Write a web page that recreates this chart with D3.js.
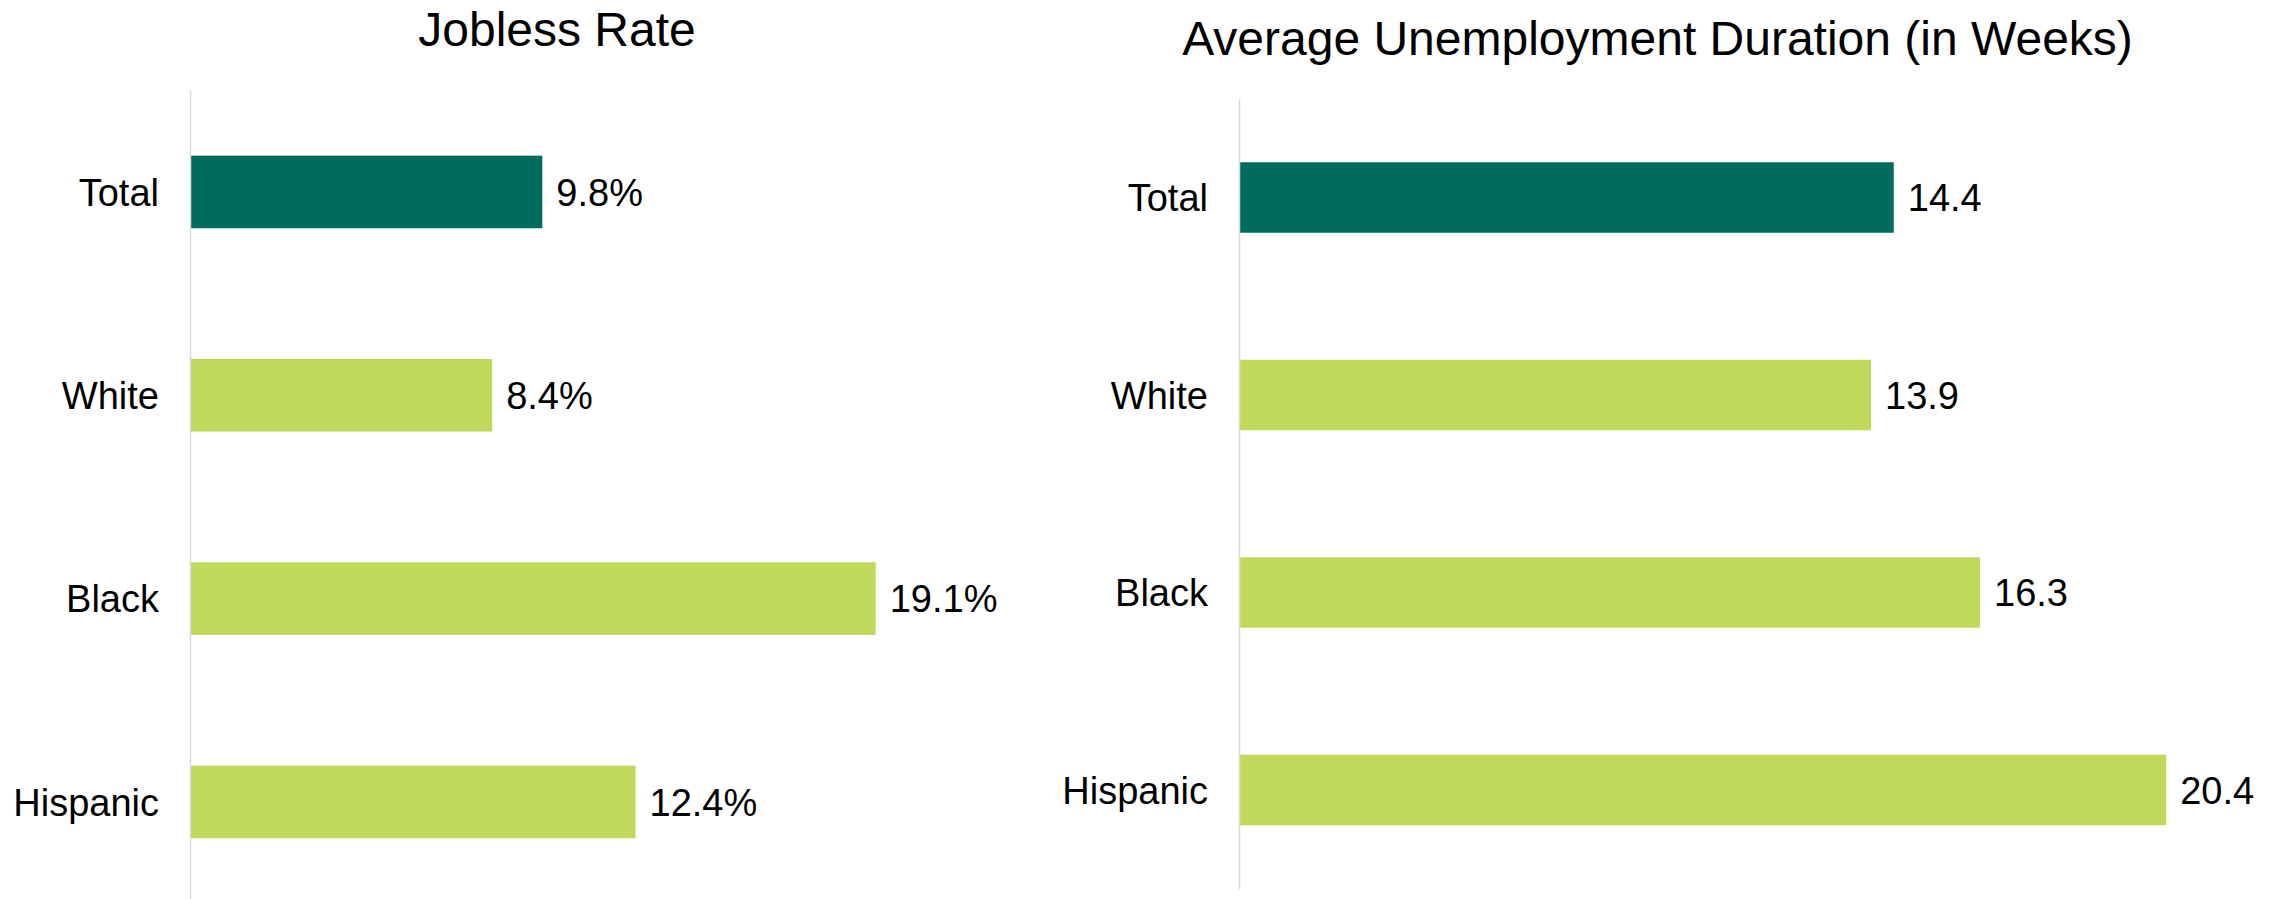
<!DOCTYPE html>
<html>
<head>
<meta charset="utf-8">
<script src="https://cdn.jsdelivr.net/npm/d3@7"></script>
<style>
  html, body { margin: 0; padding: 0; background: #ffffff; }
  svg { display: block; }
  text { font-family: "Liberation Sans", Arial, sans-serif; fill: #000000; }
</style>
</head>
<body>
<svg id="chart" width="2279" height="899"></svg>
<script>
// ---- Data ----
const categories = ["Total", "White", "Black", "Hispanic"];
const joblessRate = [9.8, 8.4, 19.1, 12.4];
const durationWeeks = [14.4, 13.9, 16.3, 20.4];
const titles = ["Jobless Rate", "Average Unemployment Duration (in Weeks)"];

// ---- Styles ----
const darkColor = "#006C5E";
const lightColor = "#C1D95B";
const axisColor = "#D9D9D9";

const svg = d3.select("#chart");

function drawPanel(cfg) {
  const g = svg.append("g");
  const x = d3.scaleLinear().domain(cfg.xDomain).range(cfg.xRange);
  const y = d3.scaleBand().domain(categories).range(cfg.yRange)
    .paddingInner(0.643).paddingOuter(0.3215);

  const rows = categories.map((c, i) => ({ cat: c, val: cfg.values[i], i }));

  g.selectAll("rect.bar").data(rows).enter().append("rect")
    .attr("class", "bar")
    .attr("x", x(0))
    .attr("y", d => y(d.cat))
    .attr("width", d => x(d.val) - x(0))
    .attr("height", y.bandwidth())
    .attr("fill", d => d.i === 0 ? darkColor : lightColor);

  g.selectAll("text.val").data(rows).enter().append("text")
    .attr("class", "val")
    .attr("x", d => x(d.val) + 14)
    .attr("y", d => y(d.cat) + y.bandwidth() / 2)
    .attr("dy", "0.36em")
    .style("font-size", "38px")
    .text(d => cfg.fmt(d.val));

  const axis = d3.axisLeft(y).tickSize(0).tickSizeOuter(0).tickPadding(31);
  const ag = g.append("g")
    .attr("transform", `translate(${cfg.axisX},0)`)
    .call(axis);
  ag.select(".domain").attr("stroke", axisColor).attr("stroke-width", 1.5);
  ag.selectAll(".tick text")
    .attr("dy", "0.36em")
    .style("font-size", "38px")
    .style("font-family", "'Liberation Sans', Arial, sans-serif")
    .attr("fill", "#000");

  g.append("text")
    .attr("x", cfg.titleX)
    .attr("y", cfg.titleY)
    .attr("text-anchor", "middle")
    .style("font-size", "48px")
    .text(cfg.title);
}

drawPanel({
  values: joblessRate,
  xDomain: [0, 20],
  xRange: [191, 908],
  yRange: [90.3, 903.6],
  axisX: 190,
  titleX: 557,
  titleY: 46,
  title: titles[0],
  fmt: v => v.toFixed(1) + "%"
});

drawPanel({
  values: durationWeeks,
  xDomain: [0, 22],
  xRange: [1240, 2238.8],
  yRange: [98.75, 888.75],
  axisX: 1239,
  titleX: 1657.5,
  titleY: 54.5,
  title: titles[1],
  fmt: v => v.toFixed(1)
});
</script>
</body>
</html>
